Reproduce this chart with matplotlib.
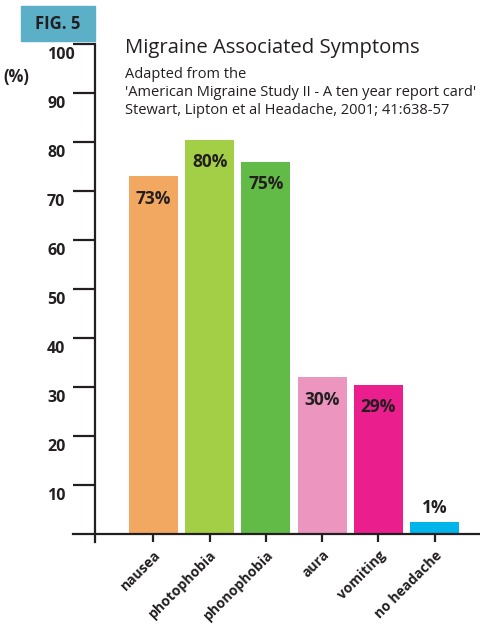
import matplotlib
matplotlib.use("Agg")
import matplotlib.pyplot as plt
import numpy as np

plt.rcParams['font.family'] = ['Open Sans', 'DejaVu Sans']

# data
symptoms = ["nausea", "photophobia", "phonophobia", "aura", "vomiting", "no headache"]
heights = [73, 80.5, 76, 32, 30.5, 2.5]
labels = ["73%", "80%", "75%", "30%", "29%", "1%"]
colors = ["#f3a861", "#a3cf47", "#62bb47", "#eb95bf", "#ea1e8c", "#00b5e9"]
yticks = [10, 20, 30, 40, 50, 60, 70, 80, 90, 100]

dark = "#231f20"
W, H = 481, 624

fig = plt.figure(figsize=(W / 100, H / 100), dpi=100)

# axes placed in pixel terms
left_px, right_px, top_px, bot_px = 73, 481, 44, 542
ax = fig.add_axes([left_px / W, 1 - bot_px / H,
                   (right_px - left_px) / W, (bot_px - top_px) / H])

x = np.arange(len(symptoms))
ax.bar(x, heights, width=0.87, color=colors, zorder=2)

ax.set_xlim(-1.432, 5.827)
ax.set_ylim(-1.6, 100)

for s in ["top", "right"]:
    ax.spines[s].set_visible(False)
ax.spines["left"].set_position(("axes", 22 / (right_px - left_px)))
ax.spines["bottom"].set_position(("data", 0))
for s in ["left", "bottom"]:
    ax.spines[s].set_linewidth(1.6)
    ax.spines[s].set_color(dark)

ax.set_yticks(yticks)
ax.tick_params(axis="y", direction="out", length=16, width=1.6, color=dark,
               labelleft=False)
ax.set_xticks(x)
ax.set_xticklabels(symptoms, rotation=45, ha="right", rotation_mode="anchor",
                   fontsize=10, fontweight="bold", color=dark)
ax.tick_params(axis="x", direction="out", length=6, width=1.6, color=dark, pad=4)

# y labels sit a little below their tick
for v in yticks:
    yp = 534 - v * 4.9 + 11
    fig.text(47 / W, 1 - yp / H, str(v), ha="left", va="center",
             fontsize=11.5, fontweight="bold", color=dark)

# value labels
for xi, h, lab in zip(x, heights, labels):
    if h > 5:
        ax.annotate(lab, (xi, h), xytext=(0, -16), textcoords="offset points",
                    ha="center", va="center", fontsize=12.5, fontweight="bold",
                    color=dark)
    else:
        ax.annotate(lab, (xi, h), xytext=(0, 10), textcoords="offset points",
                    ha="center", va="center", fontsize=12.5, fontweight="bold",
                    color=dark)

fig.text(16 / W, 1 - 77 / H, "(%)", ha="center", va="center",
         fontsize=12, fontweight="bold", color=dark)

# FIG. 5 box
fig.patches.append(plt.Rectangle((21 / W, 1 - 41 / H), 74 / W, 35 / H,
                                 transform=fig.transFigure, color="#5bafc7"))
fig.text(58 / W, 1 - 24 / H, "FIG. 5", ha="center", va="center",
         fontsize=12, fontweight="bold", color=dark)

fig.text(125 / W, 1 - 48 / H, "Migraine Associated Symptoms", ha="left",
         va="center", fontsize=14.6, color=dark)
sub = ["Adapted from the",
       "'American Migraine Study II - A ten year report card'",
       "Stewart, Lipton et al Headache, 2001; 41:638-57"]
for i, line in enumerate(sub):
    fig.text(125 / W, 1 - (75 + 18 * i) / H, line, ha="left", va="center",
             fontsize=10.5, color=dark)

fig.savefig("out.png", dpi=100)
